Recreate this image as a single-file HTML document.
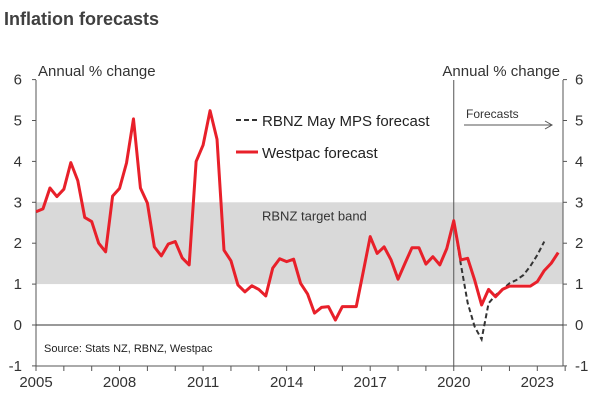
<!DOCTYPE html>
<html><head><meta charset="utf-8"><style>
body{margin:0;background:#fff;font-family:"Liberation Sans",sans-serif}
svg text{font-family:"Liberation Sans",sans-serif}
</style></head><body>
<svg width="600" height="414">
<text x="4" y="25" font-size="18" font-weight="bold" fill="#404040">Inflation forecasts</text>
<text x="38" y="76" font-size="15" fill="#333">Annual % change</text>
<text x="560" y="76" font-size="15" fill="#333" text-anchor="end">Annual % change</text>
<g id="plot"></g>
</svg>
<script>
const startYear=2005;
const westpac=[2.77,2.84,3.35,3.14,3.32,3.97,3.53,2.63,2.53,2.0,1.79,3.15,3.34,3.96,5.04,3.35,2.98,1.91,1.69,1.98,2.04,1.64,1.47,4.0,4.4,5.24,4.54,1.83,1.57,0.98,0.81,0.96,0.87,0.71,1.39,1.62,1.55,1.61,1.02,0.76,0.29,0.43,0.45,0.12,0.45,0.45,0.45,1.3,2.16,1.75,1.91,1.59,1.12,1.51,1.89,1.89,1.49,1.67,1.47,1.87,2.55,1.59,1.63,1.1,0.49,0.87,0.69,0.87,0.95,0.95,0.95,0.95,1.06,1.33,1.51,1.77];
const rbnzStart=60;
const rbnz=[2.55,1.5,0.54,-0.04,-0.35,0.53,0.73,0.87,1.02,1.1,1.22,1.44,1.71,2.04];
const yTicks=[-1,0,1,2,3,4,5,6];
const xTicks=[2005,2008,2011,2014,2017,2020,2023];
const band=[1,3];
const forecastYear=2020;

const L=36,R=563,T=80,B=366;
const X=yr=>L+(yr-2005)*27.85;
const Y=v=>325-v*40.9;
const qx=i=>X(startYear+i/4);
const g=document.getElementById('plot');
const NS='http://www.w3.org/2000/svg';
function mk(tag,attrs,parent){const e=document.createElementNS(NS,tag);for(const k in attrs)e.setAttribute(k,attrs[k]);(parent||g).appendChild(e);return e;}

let e=mk('rect',{x:L,y:Y(band[1]),width:R-L,height:Y(band[0])-Y(band[1]),fill:'#d9d9d9'});


e=mk('text',{x:262,y:Y(2.55),'font-size':13,fill:'#333'});e.textContent='RBNZ target band';



mk('line',{x1:L,y1:T,x2:L,y2:B,stroke:'#555','stroke-width':1});
mk('line',{x1:R,y1:T,x2:R,y2:B,stroke:'#555','stroke-width':1});
mk('line',{x1:L,y1:B,x2:R,y2:B,stroke:'#555','stroke-width':1});
mk('line',{x1:L,y1:Y(0),x2:R,y2:Y(0),stroke:'#333','stroke-width':1});
mk('line',{x1:X(forecastYear),y1:T,x2:X(forecastYear),y2:B,stroke:'#555','stroke-width':1});

yTicks.forEach(v=>{
 mk('line',{x1:L-4,y1:Y(v),x2:L,y2:Y(v),stroke:'#555'});
 mk('line',{x1:R,y1:Y(v),x2:R+4,y2:Y(v),stroke:'#555'});
 let t=mk('text',{x:22,y:Y(v)+5,'font-size':15,fill:'#333','text-anchor':'end'});t.textContent=v;
 
 
 t=mk('text',{x:575,y:Y(v)+5,'font-size':15,fill:'#333'});t.textContent=v;
 
 
});
for(let yr=2005;yr<=2024;yr++){mk('line',{x1:X(yr),y1:B,x2:X(yr),y2:B+5,stroke:'#555'});}
xTicks.forEach(yr=>{
 const t=mk('text',{x:X(yr),y:B+21,'font-size':15,fill:'#333','text-anchor':'middle'});t.textContent=yr;
 
 
});

e=mk('polyline',{points:rbnz.map((v,i)=>qx(rbnzStart+i)+','+Y(v)).join(' '),fill:'none',stroke:'#333','stroke-width':2,'stroke-dasharray':'5,3'});


e=mk('polyline',{points:westpac.map((v,i)=>qx(i)+','+Y(v)).join(' '),fill:'none',stroke:'#e8202a','stroke-width':3,'stroke-linejoin':'round'});



e=mk('line',{x1:236,y1:120,x2:258,y2:120,stroke:'#333','stroke-width':2,'stroke-dasharray':'5,3'});


e=mk('text',{x:262,y:126,'font-size':15,fill:'#222'});e.textContent='RBNZ May MPS forecast';


e=mk('line',{x1:236,y1:152,x2:258,y2:152,stroke:'#e8202a','stroke-width':3});


e=mk('text',{x:262,y:158,'font-size':15,fill:'#222'});e.textContent='Westpac forecast';



e=mk('text',{x:466,y:118,'font-size':12,fill:'#333'});e.textContent='Forecasts';


mk('line',{x1:464,y1:125,x2:551,y2:125,stroke:'#555','stroke-width':1});
mk('path',{d:'M545,121 L552,125 L545,129',fill:'none',stroke:'#555','stroke-width':1});

e=mk('text',{x:44,y:352,'font-size':11,fill:'#222'});e.textContent='Source: Stats NZ, RBNZ, Westpac';


</script>
</body></html>
